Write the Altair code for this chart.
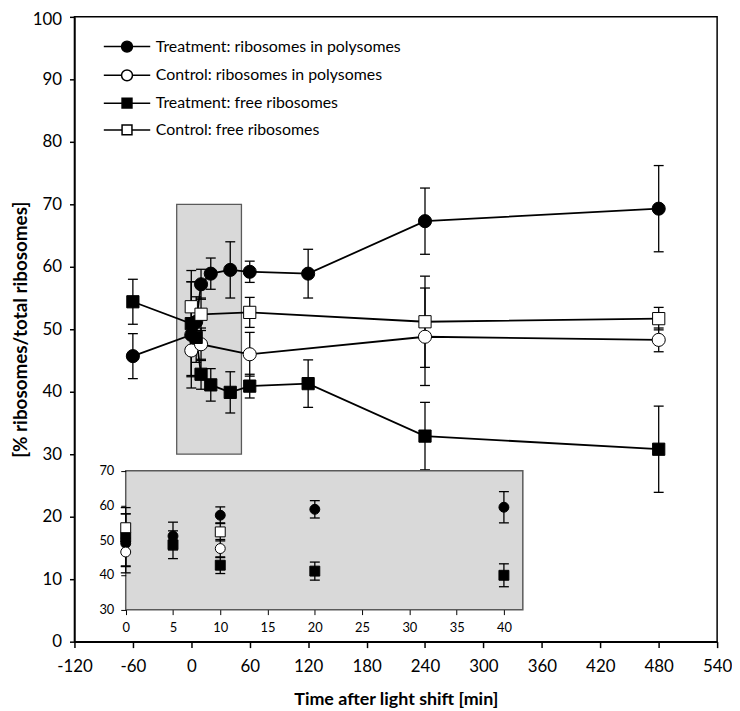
import altair as alt
import pandas as pd

# ---------------- data ----------------
series_names = [
    "Treatment: ribosomes in polysomes",
    "Control: ribosomes in polysomes",
    "Treatment: free ribosomes",
    "Control: free ribosomes",
]

t_treat = [-60, 0, 5, 10, 20, 40, 60, 120, 240, 480]
treat_poly = [45.7, 49.1, 51.2, 57.2, 58.9, 59.5, 59.2, 58.9, 67.3, 69.3]
treat_poly_sd = [3.6, 8.5, 4.0, 2.4, 2.5, 4.5, 1.7, 3.9, 5.3, 6.9]
treat_free = [54.4, 50.9, 48.7, 42.8, 41.1, 39.9, 40.9, 41.3, 32.9, 30.8]
treat_free_sd = [3.6, 8.5, 4.0, 2.4, 2.6, 3.3, 1.9, 3.8, 5.4, 6.9]

t_ctrl = [0, 10, 60, 240, 480]
ctrl_poly = [46.6, 47.6, 46.0, 48.8, 48.3]
ctrl_poly_sd = [4.0, 2.6, 3.5, 7.8, 1.9]
ctrl_free = [53.6, 52.4, 52.7, 51.2, 51.7]
ctrl_free_sd = [4.0, 2.6, 2.4, 7.3, 1.8]

x_ticks = [-120, -60, 0, 60, 120, 180, 240, 300, 360, 420, 480, 540]
y_ticks = [0, 10, 20, 30, 40, 50, 60, 70, 80, 90, 100]
inset_x_ticks = [0, 5, 10, 15, 20, 25, 30, 35, 40]
inset_y_ticks = [30, 40, 50, 60, 70]

# shaded zoom window in the main plot and the inset frame (data units)
highlight = pd.DataFrame({"x0": [-15], "x1": [51.5], "y0": [30], "y1": [70]})
inset_box = pd.DataFrame({"x0": [0], "x1": [42], "y0": [30], "y1": [70]})

rows = []
for name, ts, ms, sds in [
    (series_names[0], t_treat, treat_poly, treat_poly_sd),
    (series_names[1], t_ctrl, ctrl_poly, ctrl_poly_sd),
    (series_names[2], t_treat, treat_free, treat_free_sd),
    (series_names[3], t_ctrl, ctrl_free, ctrl_free_sd),
]:
    for t, m, s in zip(ts, ms, sds):
        rows.append({"series": name, "t": t, "mean": m,
                     "lo": round(m - s, 2), "hi": round(m + s, 2)})
df = pd.DataFrame(rows)

# ---------------- geometry ----------------
W, H = 648, 630
FONT = "Lato"
MINUS_FIX = "replace(datum.label, '\u2212', '-')"

# inset placement inside the plot area (pixels)
INSET_LEFT_PX = 51.7      # where inset x = 0 sits, from plot left
INSET_BOTTOM_PX = 32.3    # where inset y = 30 sits, from plot bottom
INSET_PX_PER_X = 9.533
INSET_PX_PER_Y = 3.5
inset_x_dom = [-INSET_LEFT_PX / INSET_PX_PER_X,
               (W - INSET_LEFT_PX) / INSET_PX_PER_X]
inset_y_dom = [30 - INSET_BOTTOM_PX / INSET_PX_PER_Y,
               30 + (H - INSET_BOTTOM_PX) / INSET_PX_PER_Y]

x_scale = alt.Scale(domain=[-120, 540], nice=False, zero=False)
y_scale = alt.Scale(domain=[0, 100], nice=False, zero=False)
xi_scale = alt.Scale(domain=inset_x_dom, nice=False, zero=False)
yi_scale = alt.Scale(domain=inset_y_dom, nice=False, zero=False)

x_axis = alt.Axis(values=x_ticks, title="Time after light shift [min]",
                  labelFontSize=17, titleFontSize=18, titleFontWeight="bold",
                  tickSize=6, tickWidth=1.5, domainWidth=1.5, labelPadding=11,
                  titlePadding=16, labelFlush=False, labelOverlap=False,
                  labelExpr=MINUS_FIX)
y_axis = alt.Axis(values=y_ticks, title="[% ribosomes/total ribosomes]",
                  labelFontSize=17, titleFontSize=19, titleFontWeight="bold",
                  tickSize=5, tickWidth=1.5, domainWidth=1.5, labelPadding=8,
                  titlePadding=2, labelFlush=False, labelOverlap=False,
                  labelOffset={"condition": {"test": "datum.value === 100", "value": 3},
                               "value": 0})
xi_axis = alt.Axis(orient="bottom", offset=-INSET_BOTTOM_PX, values=inset_x_ticks,
                   title=None, domain=False, labelFontSize=13, tickSize=5,
                   tickWidth=1, labelPadding=7, labelFlush=False, zindex=1)
yi_axis = alt.Axis(orient="left", offset=-INSET_LEFT_PX, values=inset_y_ticks,
                   title=None, domain=False, labelFontSize=13, tickSize=5,
                   tickWidth=1, labelPadding=7, labelFlush=False, zindex=1)


def X(f):
    return alt.X(f, scale=x_scale, axis=x_axis)


def Y(f):
    return alt.Y(f, scale=y_scale, axis=y_axis)


def XI(f):
    return alt.X(f, scale=xi_scale, axis=xi_axis)


def YI(f):
    return alt.Y(f, scale=yi_scale, axis=yi_axis)


GRAY_FILL = "#d9d9d9"
GRAY_EDGE = "#5a5a5a"
styles = {
    series_names[0]: ("circle", "black"),
    series_names[1]: ("circle", "white"),
    series_names[2]: ("square", "black"),
    series_names[3]: ("square", "white"),
}

base = alt.Chart(df)

# ---------------- main plot ----------------
hl_rect = alt.Chart(highlight).mark_rect(
    fill=GRAY_FILL, stroke=GRAY_EDGE, strokeWidth=1.3
).encode(x=X("x0:Q"), x2="x1", y=Y("y0:Q"), y2="y1")

err_rule = base.mark_rule(color="black", strokeWidth=1.3).encode(
    x=X("t:Q"), y=Y("lo:Q"), y2="hi")
err_cap = base.transform_fold(["lo", "hi"], as_=["k", "v"]).mark_tick(
    orient="horizontal", color="black", size=10, thickness=1.3, opacity=1
).encode(x=X("t:Q"), y=Y("v:Q"))

lines = base.mark_line(color="black", strokeWidth=1.8).encode(
    x=X("t:Q"), y=Y("mean:Q"), detail="series:N", order="t:Q")

main_pts = []
for name in series_names:
    shp, fl = styles[name]
    sz = 175 if shp == "circle" else 152
    main_pts.append(
        base.transform_filter(alt.datum.series == name).mark_point(
            shape=shp, filled=True, fill=fl, stroke="black", strokeWidth=1,
            size=sz, opacity=1
        ).encode(x=X("t:Q"), y=Y("mean:Q"))
    )

# legend: line-through-marker symbols
LEG_HALF = 3.9
circ_path = ("M-{h},0L-0.92,0M0.92,0L{h},0"
             "M-0.92,0A0.92,0.92,0,1,1,0.92,0A0.92,0.92,0,1,1,-0.92,0Z").format(h=LEG_HALF)
sq_path = ("M-{h},0L-0.83,0M0.83,0L{h},0"
           "M-0.83,-0.83L0.83,-0.83L0.83,0.83L-0.83,0.83Z").format(h=LEG_HALF)
leg = alt.Legend(title=None, orient="none", legendX=45.0, legendY=22,
                 labelFont=FONT, labelFontSize=16, labelColor="black", labelLimit=0,
                 symbolSize=144, symbolStrokeWidth=1.5, symbolStrokeColor="black",
                 labelOffset=21, rowPadding=11, padding=0)
legend_layer = base.transform_filter("false").mark_point(
    filled=True, stroke="black", strokeWidth=1.5, opacity=1
).encode(
    x=X("t:Q"), y=Y("mean:Q"),
    shape=alt.Shape("series:N", scale=alt.Scale(
        domain=series_names, range=[circ_path, circ_path, sq_path, sq_path]), legend=leg),
    fill=alt.Fill("series:N", scale=alt.Scale(
        domain=series_names, range=["black", "white", "black", "white"]), legend=leg),
    stroke=alt.Stroke("series:N", scale=alt.Scale(
        domain=series_names, range=["black", "black", "black", "black"]), legend=leg),
)

main = alt.layer(hl_rect, err_rule, err_cap, lines, *main_pts, legend_layer)

# ---------------- inset (first 40 min) ----------------
ibase = base.transform_filter(alt.datum.t >= 0).transform_filter(alt.datum.t <= 40)

in_rect = alt.Chart(inset_box).mark_rect(
    fill=GRAY_FILL, stroke=GRAY_EDGE, strokeWidth=1.5
).encode(x=XI("x0:Q"), x2="x1", y=YI("y0:Q"), y2="y1")
in_rule = ibase.mark_rule(color="black", strokeWidth=1.3).encode(
    x=XI("t:Q"), y=YI("lo:Q"), y2="hi")
in_cap = ibase.transform_fold(["lo", "hi"], as_=["k", "v"]).mark_tick(
    orient="horizontal", color="black", size=10, thickness=1.3, opacity=1
).encode(x=XI("t:Q"), y=YI("v:Q"))
in_pts = []
for name in series_names:
    shp, fl = styles[name]
    in_pts.append(
        ibase.transform_filter(alt.datum.series == name).mark_point(
            shape=shp, filled=True, fill=fl, stroke="black", strokeWidth=1,
            size=100, opacity=1
        ).encode(x=XI("t:Q"), y=YI("mean:Q"))
    )

inset = alt.layer(in_rect, in_rule, in_cap, *in_pts)

chart = alt.layer(main, inset).resolve_scale(
    x="independent", y="independent"
).properties(
    width=W, height=H, autosize="none",
    padding={"left": 67, "top": 6, "right": 15, "bottom": 70},
).configure_view(
    stroke="black", strokeWidth=1.5
).configure_axis(
    grid=False, domainColor="black", tickColor="black", labelColor="black",
    titleColor="black", labelFont=FONT, titleFont=FONT
)

chart.save("out.html", embed_options={"renderer": "svg", "actions": False})
